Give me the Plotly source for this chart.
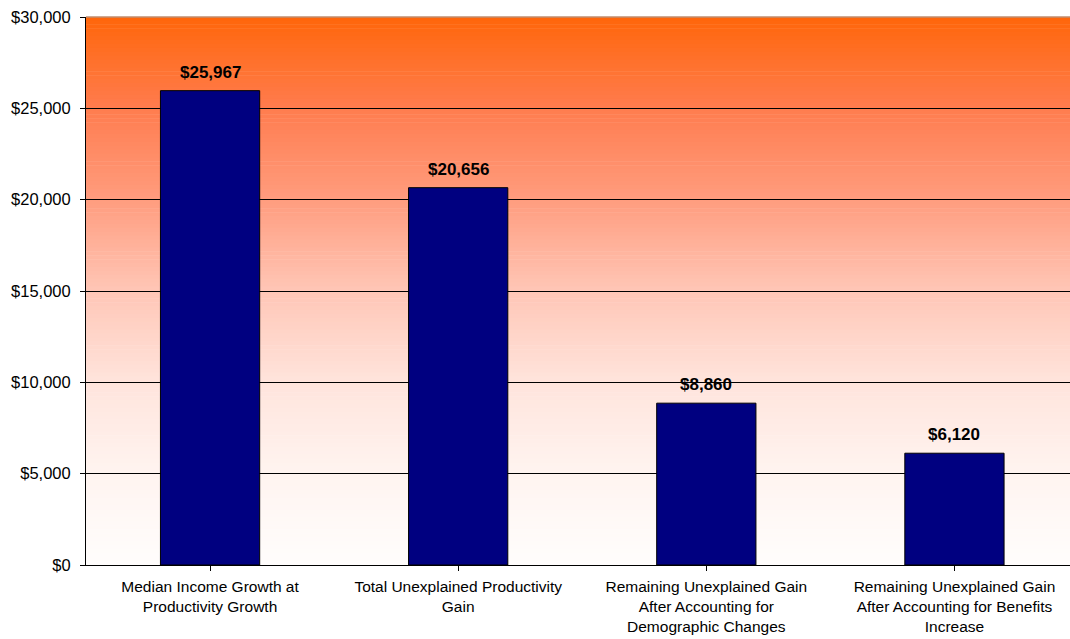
import plotly.graph_objects as go

categories = [
    "Median Income Growth at<br>Productivity Growth",
    "Total Unexplained Productivity<br>Gain",
    "Remaining Unexplained Gain<br>After Accounting for<br>Demographic Changes",
    "Remaining Unexplained Gain<br>After Accounting for Benefits<br>Increase",
]
values = [25967, 20656, 8860, 6120]
value_labels = ["$25,967", "$20,656", "$8,860", "$6,120"]
y_ticks = [0, 5000, 10000, 15000, 20000, 25000, 30000]
y_tick_labels = ["$0", "$5,000", "$10,000", "$15,000", "$20,000", "$25,000", "$30,000"]

FONT = "Liberation Sans, Arial, sans-serif"

fig = go.Figure()
fig.add_trace(go.Bar(
    x=list(range(len(categories))),
    y=values,
    width=0.4,
    marker=dict(color="#000080", line=dict(color="#000000", width=1)),
    hoverinfo="skip",
))

for i, (v, lab) in enumerate(zip(values, value_labels)):
    fig.add_annotation(x=i, y=v, text="<b>" + lab + "</b>", showarrow=False,
                       yanchor="bottom", yshift=7,
                       font=dict(family=FONT, size=17, color="#000000"))

# gradient background: orange top to white bottom (piecewise colour stops)
stops = [
    (0.0, (255, 102, 10)),
    (1 / 6, (255, 124, 78)),
    (1 / 3, (255, 156, 126)),
    (1 / 2, (255, 198, 182)),
    (2 / 3, (255, 228, 220)),
    (5 / 6, (255, 244, 240)),
    (1.0, (255, 253, 252)),
]


def color_at(t):
    for (t0, c0), (t1, c1) in zip(stops[:-1], stops[1:]):
        if t <= t1:
            f = (t - t0) / (t1 - t0)
            return tuple(int(round(c0[j] + (c1[j] - c0[j]) * f)) for j in range(3))
    return stops[-1][1]


n = 140
shapes = []
for k in range(n):
    t = (k + 0.5) / n
    c = color_at(t)
    y1 = 1 - k / n
    y0 = 1 - (k + 1) / n
    shapes.append(dict(type="rect", xref="x domain", yref="y domain",
                       x0=0, x1=1, y0=y0, y1=y1 + 0.001, layer="below",
                       line=dict(width=0), fillcolor="rgb(%d,%d,%d)" % c))
shapes.append(dict(type="line", xref="x domain", yref="y domain", x0=0, x1=1,
                   y0=1, y1=1, line=dict(color="#a0a0a0", width=1)))
fig.update_layout(shapes=shapes)

fig.update_layout(
    width=1070, height=639,
    margin=dict(l=86, r=0, t=17, b=74),
    paper_bgcolor="#ffffff",
    plot_bgcolor="rgba(0,0,0,0)",
    showlegend=False,
    font=dict(family=FONT, size=15, color="#000000"),
)
fig.update_xaxes(
    range=[-0.5, 3.5 - 8.5 / 248],
    tickmode="array", tickvals=list(range(len(categories))), ticktext=categories,
    tickson="boundaries", ticks="outside", ticklen=5, tickcolor="#000000",
    ticklabelstandoff=2,
    showline=True, linecolor="#000000", linewidth=1,
    showgrid=False, zeroline=False,
    tickfont=dict(family=FONT, size=15.5, color="#000000"),
)
fig.update_yaxes(
    range=[0, 30000],
    tickmode="array", tickvals=y_ticks, ticktext=y_tick_labels,
    ticks="outside", ticklen=5, tickcolor="#000000",
    ticklabelstandoff=6,
    showline=True, linecolor="#000000", linewidth=1,
    showgrid=True, gridcolor="#000000", gridwidth=1,
    zeroline=False,
    tickfont=dict(family=FONT, size=16.5, color="#000000"),
)

fig.write_html("out.html")
